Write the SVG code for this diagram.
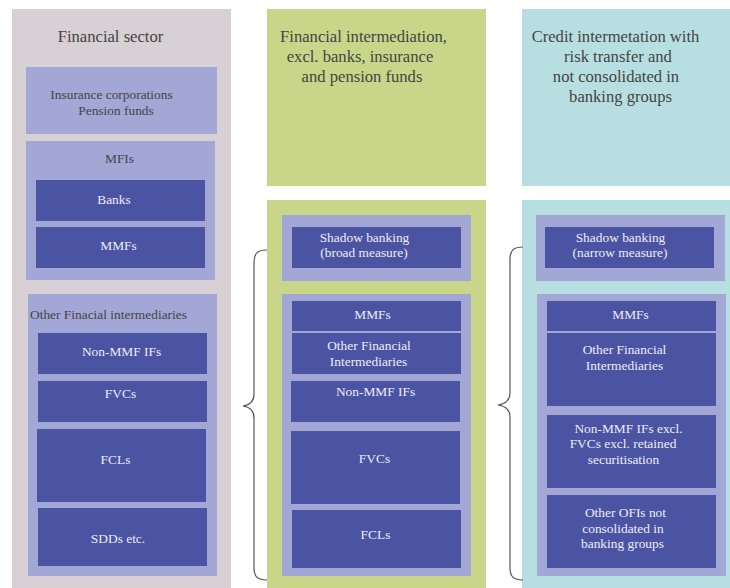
<svg xmlns="http://www.w3.org/2000/svg" width="730" height="588" viewBox="0 0 730 588">
<style>
text{font-family:"Liberation Serif","Times New Roman",serif;text-anchor:middle}
.h{font-size:16.6px;fill:#444}
.d{font-size:13.4px;fill:#444}
.w{font-size:13.4px;fill:#eeeef6}
.gray{fill:#d7d0d4}
.lp{fill:#a3a7d6}
.dk{fill:#4b53a3}
.gr{fill:#c9d689}
.tl{fill:#b7dfe1}
.brace{fill:none;stroke:#555;stroke-width:1.2}
</style>
<rect width="730" height="588" fill="#fff"/>
<g id="financial-sector">
<rect class="gray" x="12" y="9" width="219" height="579"/>
<text class="h" x="110.5" y="42">Financial sector</text>
</g>
<g id="insurance">
<rect class="lp" x="26" y="67" width="191" height="67"/>
<text class="d" x="111.5" y="99">Insurance corporations</text>
<text class="d" x="116" y="115">Pension funds</text>
</g>
<g id="mfis">
<rect class="lp" x="26" y="141" width="189" height="139"/>
<text class="d" x="119.5" y="163">MFIs</text>
</g>
<g id="banks">
<rect class="dk" x="36" y="180" width="169" height="41"/>
<text class="w" x="114" y="204">Banks</text>
</g>
<g id="mmfs-left">
<rect class="dk" x="36" y="227" width="169" height="41"/>
<text class="w" x="118.5" y="250">MMFs</text>
</g>
<g id="ofi-left">
<rect class="lp" x="28" y="294" width="189" height="282"/>
<text class="d" x="30" y="319" style="text-anchor:start">Other Finacial intermediaries</text>
</g>
<g id="nonmmf-left">
<rect class="dk" x="38" y="333" width="169" height="41"/>
<text class="w" x="121.5" y="356">Non-MMF IFs</text>
</g>
<g id="fvcs-left">
<rect class="dk" x="38" y="381" width="169" height="41"/>
<text class="w" x="120.5" y="398">FVCs</text>
</g>
<g id="fcls-left">
<rect class="dk" x="37" y="429" width="169" height="73"/>
<text class="w" x="115.5" y="464">FCLs</text>
</g>
<g id="sdds">
<rect class="dk" x="38" y="508" width="169" height="58"/>
<text class="w" x="118" y="543">SDDs etc.</text>
</g>

<g id="fin-intermediation">
<rect class="gr" x="267" y="9" width="219" height="177"/>
<text class="h" x="363.5" y="42">Financial intermediation,</text>
<text class="h" x="360" y="62">excl. banks, insurance</text>
<text class="h" x="362" y="82">and pension funds</text>
</g>
<g id="broad-column">
<rect class="gr" x="267" y="200" width="219" height="388"/>
</g>
<g id="broad-measure">
<rect class="lp" x="282" y="215" width="189" height="66"/>
<rect class="dk" x="292" y="227" width="169" height="41"/>
<text class="w" x="364.5" y="242">Shadow banking</text>
<text class="w" x="364" y="257">(broad measure)</text>
</g>
<g id="broad-list">
<rect class="lp" x="282" y="294" width="189" height="282"/>
</g>
<g id="mmfs-mid">
<rect class="dk" x="292" y="301" width="169" height="30"/>
<text class="w" x="372.5" y="319">MMFs</text>
</g>
<g id="ofi-mid">
<rect class="dk" x="292" y="333" width="169" height="41"/>
<text class="w" x="369" y="350">Other Financial</text>
<text class="w" x="368.5" y="366">Intermediaries</text>
</g>
<g id="nonmmf-mid">
<rect class="dk" x="291" y="381" width="169" height="41"/>
<text class="w" x="375.5" y="396">Non-MMF IFs</text>
</g>
<g id="fvcs-mid">
<rect class="dk" x="291" y="431" width="169" height="73"/>
<text class="w" x="374.5" y="463">FVCs</text>
</g>
<g id="fcls-mid">
<rect class="dk" x="292" y="510" width="169" height="58"/>
<text class="w" x="375.5" y="539">FCLs</text>
</g>

<g id="credit-intermediation">
<rect class="tl" x="522" y="9" width="208" height="177"/>
<text class="h" x="615.5" y="42">Credit intermetation with</text>
<text class="h" x="618" y="62">risk transfer and</text>
<text class="h" x="616" y="82">not consolidated in</text>
<text class="h" x="620.5" y="102">banking groups</text>
</g>
<g id="narrow-column">
<rect class="tl" x="522" y="200" width="208" height="388"/>
</g>
<g id="narrow-measure">
<rect class="lp" x="536" y="215" width="189" height="66"/>
<rect class="dk" x="545" y="227" width="169" height="41"/>
<text class="w" x="620.5" y="242">Shadow banking</text>
<text class="w" x="620" y="257">(narrow measure)</text>
</g>
<g id="narrow-list">
<rect class="lp" x="537" y="294" width="189" height="282"/>
</g>
<g id="mmfs-right">
<rect class="dk" x="547" y="301" width="169" height="30"/>
<text class="w" x="630.5" y="319">MMFs</text>
</g>
<g id="ofi-right">
<rect class="dk" x="547" y="333" width="169" height="73"/>
<text class="w" x="624.5" y="354">Other Financial</text>
<text class="w" x="624.5" y="370">Intermediaries</text>
</g>
<g id="nonmmf-right">
<rect class="dk" x="547" y="415" width="169" height="73"/>
<text class="w" x="628.5" y="433">Non-MMF IFs excl.</text>
<text class="w" x="623" y="448">FVCs excl. retained</text>
<text class="w" x="623.5" y="464">securitisation</text>
</g>
<g id="other-ofis">
<rect class="dk" x="547" y="495" width="169" height="73"/>
<text class="w" x="625.5" y="517">Other OFIs not</text>
<text class="w" x="623" y="533">consolidated in</text>
<text class="w" x="622.5" y="548">banking groups</text>
</g>

<g id="connectors">
<path class="brace" d="M267,250 C258,250 254,253 254,262 L254,394 C254,402 250,405 243,406 C250,407 254,410 254,418 L254,568 C254,577 258,580 267,580"/>
<path class="brace" d="M523,247 C514,247 510,250 510,259 L510,393 C510,401 505,404 498,405 C505,406 510,409 510,417 L510,568 C510,577 514,580 523,580"/>
</g>
</svg>
